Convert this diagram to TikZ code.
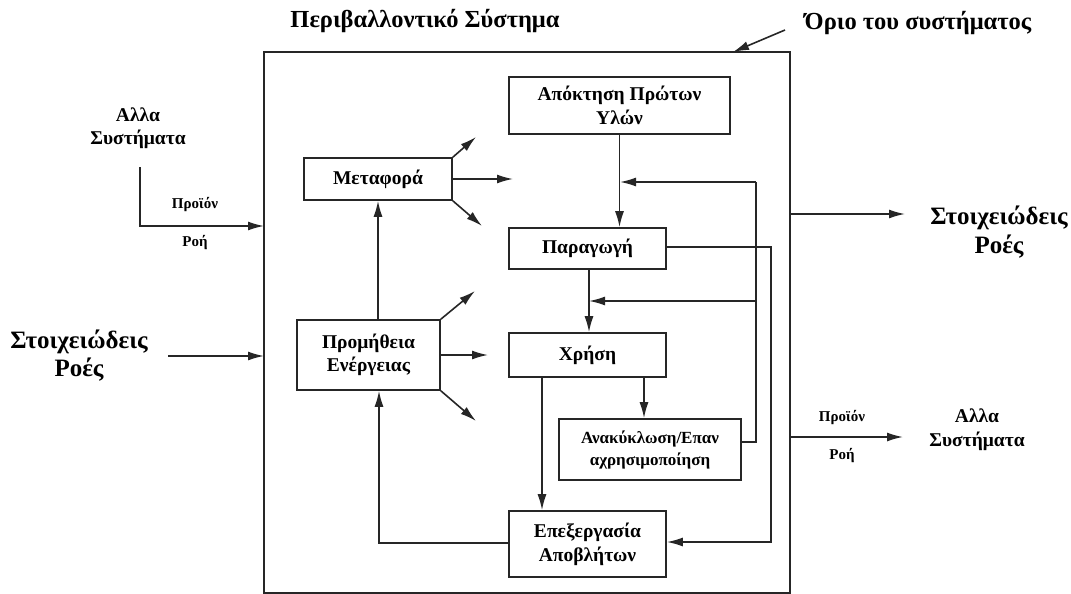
\documentclass[tikz,border=0pt]{standalone}
\usepackage{fontspec}
\setmainfont{Liberation Serif}
\usetikzlibrary{arrows.meta}
\begin{document}
\begin{tikzpicture}[x=1pt,y=-1pt,
  line width=1.6pt, draw=black!85,
  box/.style={draw, rectangle, align=center, font=\bfseries\fontsize{19.5}{24}\selectfont, inner sep=2pt},
  arr/.style={-{Latex[length=16pt,width=9pt]}},
  big/.style={font=\bfseries\fontsize{25}{29}\selectfont, align=center},
  mid/.style={font=\bfseries\fontsize{19.5}{24}\selectfont, align=center},
  small/.style={font=\bfseries\fontsize{15}{18}\selectfont}]
\useasboundingbox (0,0) rectangle (1071,594);

% system boundary
\draw[line width=2.2pt] (264,52) rectangle (790,593);

% process boxes
\node[box, minimum width=148pt, minimum height=42pt] (met) at (378,179) {Μεταφορά};
\node[box, minimum width=221pt, minimum height=57pt] (apo) at (619.5,105.5) {Απόκτηση Πρώτων\\Υλών};
\node[box, minimum width=157pt, minimum height=41pt] (par) at (587.5,248.5) {Παραγωγή};
\node[box, minimum width=143pt, minimum height=70pt, font=\bfseries\fontsize{19.5}{23}\selectfont] (pro) at (368.5,355) {Προμήθεια\\Ενέργειας};
\node[box, minimum width=157pt, minimum height=44pt] (xri) at (587.5,355) {Χρήση};
\node[box, minimum width=182pt, minimum height=61pt, font=\bfseries\fontsize{17}{22}\selectfont] (ana) at (650,449.5) {Ανακύκλωση/Επαν\\αχρησιμοποίηση};
\node[box, minimum width=157pt, minimum height=66pt] (epe) at (587.5,544) {Επεξεργασία\\Αποβλήτων};

% outside texts
\node[font=\bfseries\fontsize{24.5}{28}\selectfont] (title) at (425,21) {Περιβαλλοντικό Σύστημα};
\node[font=\bfseries\fontsize{24.5}{28}\selectfont] (orio) at (918,23) {Όριο του συστήματος};
\node[mid, font=\bfseries\fontsize{19.5}{23}\selectfont] (allaL) at (138,128) {Αλλα\\Συστήματα};
\node[big, font=\bfseries\fontsize{25}{28}\selectfont] (stoL) at (79,356) {Στοιχειώδεις\\Ροές};
\node[big] (stoR) at (999,232) {Στοιχειώδεις\\Ροές};
\node[mid] (allaR) at (977,430) {Αλλα\\Συστήματα};
\node[small] (prL) at (195,205) {Προϊόν};
\node[small] (roL) at (195,243) {Ροή};
\node[small] (prR) at (842,418) {Προϊόν};
\node[small] (roR) at (842,456) {Ροή};

% boundary pointer
\coordinate (op) at (785,30);
\coordinate (oq) at (733,52);
\draw[arr] (op) -- (oq);

% inflows and outflows across the boundary
\coordinate (inA) at (140,167);
\coordinate (inAb) at (140,226);
\coordinate (inAe) at (264,226);
\draw[arr] (inA) -- (inAb) -- (inAe);
\coordinate (inS) at (168,356);
\coordinate (inSe) at (264,356);
\draw[arr] (inS) -- (inSe);
\coordinate (outS) at (790,214);
\coordinate (outSe) at (905,214);
\draw[arr] (outS) -- (outSe);
\coordinate (outA) at (790,437);
\coordinate (outAe) at (903,437);
\draw[arr] (outA) -- (outAe);

% main chain
\draw[arr] (apo.south) -- (apo.south |- par.north);
\coordinate (pc) at (589,269);
\draw[arr] (pc) -- (pc |- xri.north);
\coordinate (xa) at (644,377);
\draw[arr] (xa) -- (xa |- ana.north);
\coordinate (x1) at (542,377);
\draw[arr] (x1) -- (x1 |- epe.north);

% recycling loop
\coordinate (r0) at (756,442);
\coordinate (r1) at (756,182);
\coordinate (r2) at (620,182);
\coordinate (r3) at (756,301);
\coordinate (r4) at (589,301);
\draw (ana.east |- r0) -- (r0) -- (r1);
\draw[arr] (r1) -- (r2);
\draw[arr] (r3) -- (r4);

% production waste to treatment
\coordinate (w0) at (771,247);
\coordinate (w1) at (771,542);
\draw[arr] (par.east |- w0) -- (w0) -- (w1) -- (epe.east |- w1);

% waste treatment back to energy supply, energy to transport
\coordinate (e0) at (379,543);
\draw[arr] (epe.west |- e0) -- (e0) -- (e0 |- pro.south);
\draw[arr] (pro.north -| met.south) -- (met.south);

% transport emissions
\coordinate (m1) at (476,137);
\coordinate (m2) at (513,179);
\coordinate (m3) at (482,226);
\draw[arr] (met.north east) -- (m1);
\draw[arr] (met.east) -- (m2);
\draw[arr] (met.south east) -- (m3);

% energy supply emissions
\coordinate (p1) at (475,291);
\coordinate (p2) at (488,355);
\coordinate (p3) at (476,421);
\draw[arr] (pro.north east) -- (p1);
\draw[arr] (pro.east) -- (p2);
\draw[arr] (pro.south east) -- (p3);
\end{tikzpicture}
\end{document}
